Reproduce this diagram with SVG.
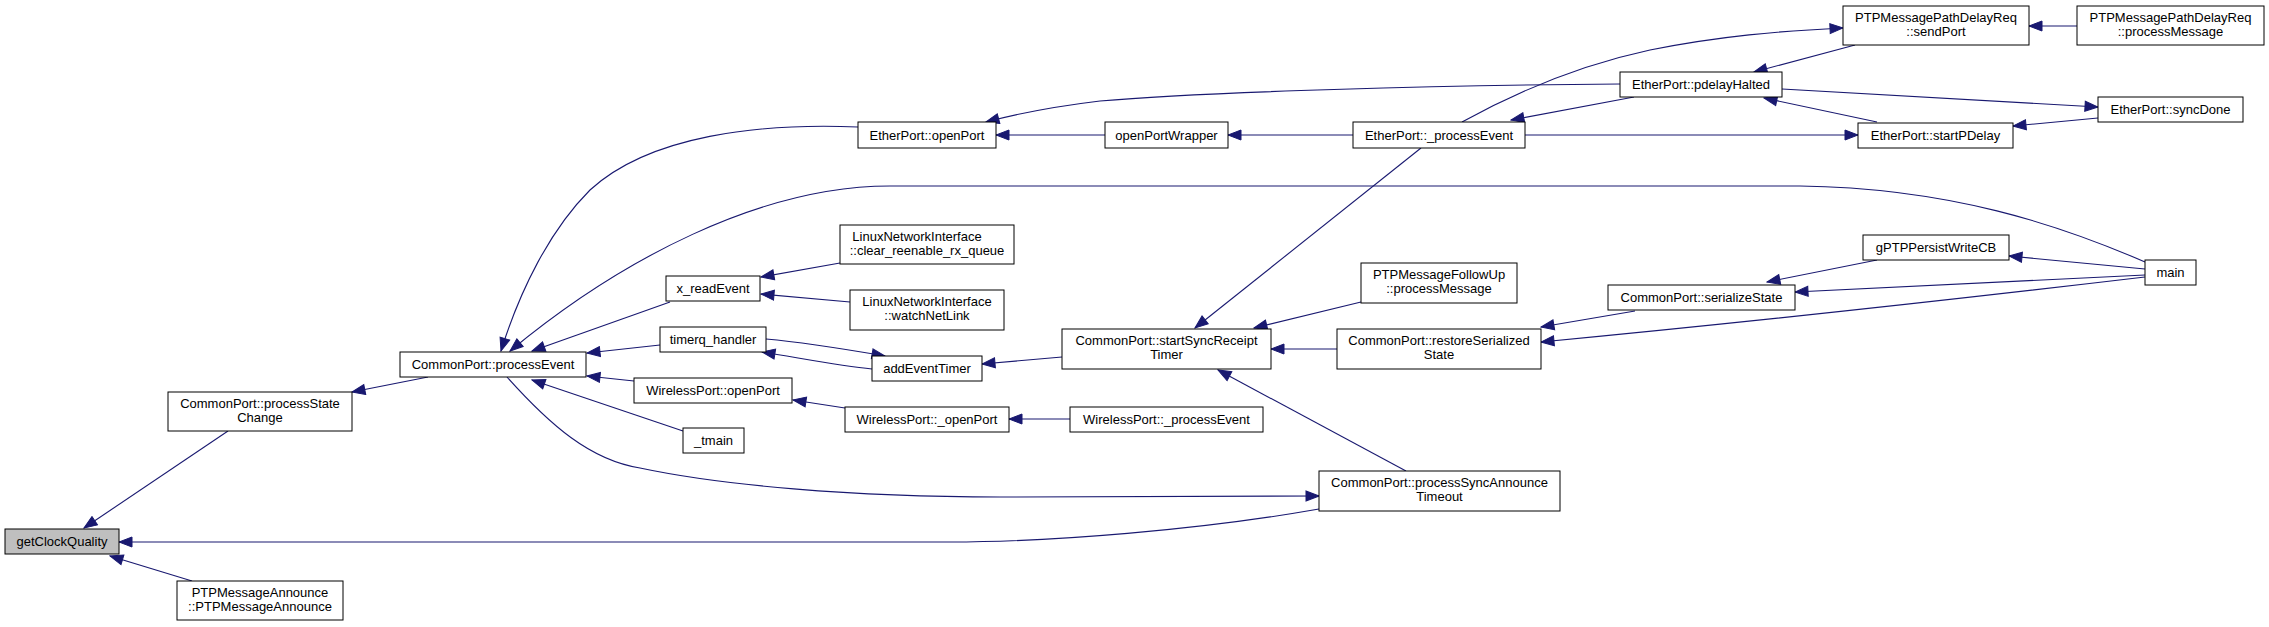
<svg xmlns="http://www.w3.org/2000/svg" width="2269" height="627" viewBox="0 0 2269 627">
<style>
.n rect{fill:#ffffff;stroke:#000000;stroke-width:1}
.root rect{fill:#bfbfbf}
text{font-family:"Liberation Sans",Arial,sans-serif;font-size:13px;fill:#000000;text-anchor:middle}
.e path{fill:none;stroke:#191970;stroke-width:1.1;marker-end:url(#ah)}
</style>
<defs>
<marker id="ah" markerUnits="userSpaceOnUse" markerWidth="15" markerHeight="12" viewBox="-1 -1 15 12" refX="13" refY="5" orient="auto">
<path d="M0,0 L13,5 L0,10 z" fill="#191970" stroke="#191970" stroke-width="1"/>
</marker>
</defs>
<rect x="0" y="0" width="2269" height="627" fill="#ffffff"/>
<g id="edges" class="e">
<path d="M228,431 L84,528"/>
<path d="M192,581 L110,556"/>
<path d="M1319,509 C1200,530 1050,542 950,542 L119,542"/>
<path d="M428,377 L352,392"/>
<path d="M858,127 C760,123 650,135 590,190 C550,230 520,290 501,351"/>
<path d="M2145,262 C2060,225 1950,188 1800,186 L890,186 C760,186 620,260 510,351"/>
<path d="M670,302 L532,351"/>
<path d="M660,345 L587,353"/>
<path d="M634,381 L587,376"/>
<path d="M683,431 L532,380"/>
<path d="M507,377 C550,425 590,460 640,468 C720,485 850,497 1000,497 L1319,496"/>
<path d="M1406,471 L1218,370"/>
<path d="M1421,148 L1195,328"/>
<path d="M1361,302 L1254,328"/>
<path d="M1337,349 L1271,349"/>
<path d="M1062,357 L982,364"/>
<path d="M872,369 C840,366 800,358 762,352"/>
<path d="M766,339 C810,343 850,350 885,356"/>
<path d="M840,263 L761,277"/>
<path d="M850,302 L761,294"/>
<path d="M845,408 L793,400"/>
<path d="M1070,419 L1009,419"/>
<path d="M1105,135 L996,135"/>
<path d="M1353,135 L1228,135"/>
<path d="M1620,84 C1450,85 1200,92 1100,101 C1050,107 1020,113 986,122"/>
<path d="M1634,97 L1511,120"/>
<path d="M1462,122 C1520,90 1580,65 1650,50 C1720,36 1780,31 1843,28"/>
<path d="M1855,45 L1754,72"/>
<path d="M2077,26 L2029,26"/>
<path d="M1782,89 L2098,107"/>
<path d="M1877,122 L1764,98"/>
<path d="M2098,118 L2013,126"/>
<path d="M1525,135 L1858,135"/>
<path d="M2145,269 L2009,256"/>
<path d="M2145,275 L1795,292"/>
<path d="M1877,260 L1767,282"/>
<path d="M1635,311 L1541,327"/>
<path d="M2145,277 C1950,300 1750,322 1541,342"/>
</g>
<g id="n1" class="n root"><rect x="5" y="529" width="114" height="25"/><text x="62" y="546">getClockQuality</text></g>
<g id="n2" class="n"><rect x="168" y="392" width="184" height="39"/><text x="260" y="408">CommonPort::processState</text><text x="260" y="422">Change</text></g>
<g id="n3" class="n"><rect x="177" y="581" width="166" height="39"/><text x="260" y="597">PTPMessageAnnounce</text><text x="260" y="611">::PTPMessageAnnounce</text></g>
<g id="n4" class="n"><rect x="400" y="352" width="186" height="25"/><text x="493" y="369">CommonPort::processEvent</text></g>
<g id="n5" class="n"><rect x="858" y="122" width="138" height="26"/><text x="927" y="139.5">EtherPort::openPort</text></g>
<g id="n6" class="n"><rect x="1105" y="122" width="123" height="26"/><text x="1166.5" y="139.5">openPortWrapper</text></g>
<g id="n7" class="n"><rect x="1353" y="122" width="172" height="26"/><text x="1439" y="139.5">EtherPort::_processEvent</text></g>
<g id="n8" class="n"><rect x="1620" y="72" width="162" height="25"/><text x="1701" y="89">EtherPort::pdelayHalted</text></g>
<g id="n9" class="n"><rect x="1843" y="6" width="186" height="39"/><text x="1936" y="22">PTPMessagePathDelayReq</text><text x="1936" y="36">::sendPort</text></g>
<g id="n10" class="n"><rect x="2077" y="6" width="187" height="39"/><text x="2170.5" y="22">PTPMessagePathDelayReq</text><text x="2170.5" y="36">::processMessage</text></g>
<g id="n11" class="n"><rect x="2098" y="97" width="145" height="25"/><text x="2170.5" y="114">EtherPort::syncDone</text></g>
<g id="n12" class="n"><rect x="1858" y="123" width="155" height="25"/><text x="1935.5" y="140">EtherPort::startPDelay</text></g>
<g id="n13" class="n"><rect x="666" y="276" width="94" height="25"/><text x="713" y="293">x_readEvent</text></g>
<g id="n14" class="n"><rect x="840" y="225" width="174" height="39"/><text x="917" y="241">LinuxNetworkInterface</text><text x="927" y="255">::clear_reenable_rx_queue</text></g>
<g id="n15" class="n"><rect x="850" y="290" width="154" height="40"/><text x="927" y="306">LinuxNetworkInterface</text><text x="927" y="320">::watchNetLink</text></g>
<g id="n16" class="n"><rect x="660" y="327" width="106" height="25"/><text x="713" y="344">timerq_handler</text></g>
<g id="n17" class="n"><rect x="872" y="356" width="110" height="25"/><text x="927" y="373">addEventTimer</text></g>
<g id="n18" class="n"><rect x="634" y="378" width="158" height="25"/><text x="713" y="395">WirelessPort::openPort</text></g>
<g id="n19" class="n"><rect x="845" y="407" width="164" height="25"/><text x="927" y="424">WirelessPort::_openPort</text></g>
<g id="n20" class="n"><rect x="683" y="428" width="61" height="25"/><text x="713.5" y="445">_tmain</text></g>
<g id="n21" class="n"><rect x="1070" y="407" width="193" height="25"/><text x="1166.5" y="424">WirelessPort::_processEvent</text></g>
<g id="n22" class="n"><rect x="1062" y="329" width="209" height="40"/><text x="1166.5" y="345">CommonPort::startSyncReceipt</text><text x="1166.5" y="359">Timer</text></g>
<g id="n23" class="n"><rect x="1361" y="263" width="156" height="40"/><text x="1439" y="279">PTPMessageFollowUp</text><text x="1439" y="293">::processMessage</text></g>
<g id="n24" class="n"><rect x="1337" y="329" width="204" height="40"/><text x="1439" y="345">CommonPort::restoreSerialized</text><text x="1439" y="359">State</text></g>
<g id="n25" class="n"><rect x="1319" y="471" width="241" height="40"/><text x="1439.5" y="487">CommonPort::processSyncAnnounce</text><text x="1439.5" y="501">Timeout</text></g>
<g id="n26" class="n"><rect x="1608" y="285" width="187" height="25"/><text x="1701.5" y="302">CommonPort::serializeState</text></g>
<g id="n27" class="n"><rect x="1863" y="235" width="146" height="25"/><text x="1936" y="252">gPTPPersistWriteCB</text></g>
<g id="n28" class="n"><rect x="2145" y="260" width="51" height="25"/><text x="2170.5" y="277">main</text></g>
</svg>
